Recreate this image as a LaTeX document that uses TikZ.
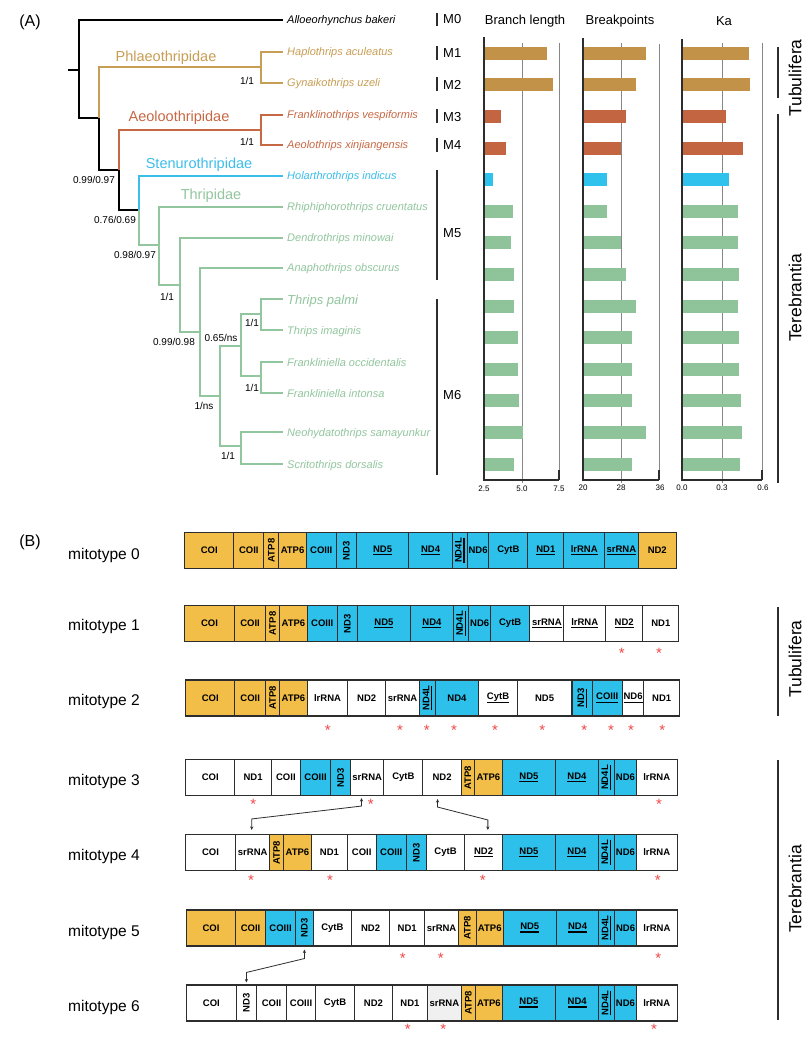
\documentclass[tikz,border=0pt]{standalone}
\usepackage{fontspec}
\setmainfont{Liberation Sans}
\usepackage{graphicx}
\usetikzlibrary{arrows.meta,calc}
\definecolor{tgold}{RGB}{200,158,84}
\definecolor{tred}{RGB}{199,104,68}
\definecolor{tblue}{RGB}{60,190,235}
\definecolor{tgreen}{RGB}{146,198,158}
\definecolor{bgold}{RGB}{193,146,72}
\definecolor{bred}{RGB}{196,101,66}
\definecolor{bblue}{RGB}{46,194,236}
\definecolor{bgreen}{RGB}{143,196,154}
\definecolor{ggold}{RGB}{243,190,72}
\definecolor{gblue}{RGB}{45,192,234}
\definecolor{gpale}{RGB}{240,240,240}
\definecolor{starred}{RGB}{240,70,70}
\definecolor{axisc}{RGB}{45,45,45}
\definecolor{gridc}{RGB}{135,135,135}
\newcommand\fs[1]{\fontsize{#1}{#1}\selectfont}
\newsavebox\gbx
\newcommand\gund[1]{\sbox\gbx{#1}\rlap{\rule[-3pt]{\wd\gbx}{1.3pt}}\usebox\gbx}
\newcommand\grot[1]{\rotatebox{90}{#1}}
\newcommand\gene[5]{\node[gbox,fill=#4,minimum width={#3pt-#2pt}] (#1) at (#2,\ry) {#5};}
\begin{document}
\begin{tikzpicture}[x=1pt,y=-1pt,
  leaf/.style={font=\fs{11}\itshape, anchor=base west, inner sep=0pt},
  fam/.style={font=\fs{14.5}, inner sep=0pt},
  sup/.style={font=\fs{10}, inner sep=0pt},
  mlab/.style={font=\fs{13}, anchor=west, inner sep=0pt},
  mbar/.style={axisc, line width=1.7pt},
  head/.style={font=\fs{13}, inner sep=0pt},
  tick/.style={font=\fs{8}, inner sep=0pt},
  clade/.style={font=\fs{17.5}, rotate=90, inner sep=0pt},
  gbox/.style={draw=axisc, line width=1.1pt, minimum height=36pt, inner sep=0pt, font=\bfseries\fs{9.5}, anchor=west},
  star/.style={text=starred, font=\fs{15}, inner sep=0pt},
  mito/.style={font=\fs{15.5}, anchor=base west, inner sep=0pt},
  dbl/.style={{Stealth[length=3.5pt,width=3.2pt]}-{Stealth[length=3.5pt,width=3.2pt]}, line width=0.8pt, draw=axisc},
  panel/.style={font=\fs{16}, inner sep=0pt}]
\useasboundingbox (0,0) rectangle (809,1040);
\fill[white] (0,0) rectangle (809,1040);

% ---------------- Panel A: tree ----------------
\node[panel] (pA) at (30,22) {(A)};
\begin{scope}[line width=2.3pt]
\draw[black] (68,70) -- (79,70);
\draw[black] (283,20) -- (79,20) -- (79,118) -- (99,118);
\draw[black] (99,118) -- (99,170) -- (119,170);
\draw[black] (119,170) -- (119,210) -- (139,210);
\draw[tgold] (99,118) -- (99,67) -- (261,67);
\draw[tgold] (283,52) -- (261,52) -- (261,83) -- (283,83);
\draw[tred] (119,170) -- (119,130) -- (261,130);
\draw[tred] (283,115) -- (261,115) -- (261,145) -- (283,145);
\draw[tblue] (139,210) -- (139,176) -- (283,176);
\draw[tgreen] (139,210) -- (139,245) -- (159,245);
\draw[tgreen] (283,207) -- (159,207) -- (159,285) -- (180,285);
\draw[tgreen] (283,238) -- (180,238) -- (180,332) -- (200,332);
\draw[tgreen] (283,268) -- (200,268) -- (200,396) -- (220,396);
\draw[tgreen] (241,346) -- (220,346) -- (220,446) -- (241,446);
\draw[tgreen] (261,314) -- (241,314) -- (241,376) -- (261,376);
\draw[tgreen] (283,299) -- (261,299) -- (261,330) -- (283,330);
\draw[tgreen] (283,362) -- (261,362) -- (261,393) -- (283,393);
\draw[tgreen] (283,432) -- (241,432) -- (241,464) -- (283,464);
\end{scope}

\node[leaf] (l0) at (287,24) {Alloeorhynchus bakeri};
\node[leaf,text=tgold] (l1) at (287,56) {Haplothrips aculeatus};
\node[leaf,text=tgold] (l2) at (287,87) {Gynaikothrips uzeli};
\node[leaf,text=tred] (l3) at (287,119) {Franklinothrips vespiformis};
\node[leaf,text=tred] (l4) at (287,149) {Aeolothrips xinjiangensis};
\node[leaf,text=tblue] (l5) at (287,180) {Holarthrothrips indicus};
\node[leaf,text=tgreen] (l6) at (287,211) {Rhiphiphorothrips cruentatus};
\node[leaf,text=tgreen] (l7) at (287,242) {Dendrothrips minowai};
\node[leaf,text=tgreen] (l8) at (287,272) {Anaphothrips obscurus};
\node[leaf,text=tgreen,font=\fs{13}\itshape] (l9) at (287,304) {Thrips palmi};
\node[leaf,text=tgreen] (l10) at (287,334) {Thrips imaginis};
\node[leaf,text=tgreen] (l11) at (287,366) {Frankliniella occidentalis};
\node[leaf,text=tgreen] (l12) at (287,397) {Frankliniella intonsa};
\node[leaf,text=tgreen] (l13) at (287,436) {Neohydatothrips samayunkur};
\node[leaf,text=tgreen] (l14) at (287,468) {Scritothrips dorsalis};

\node[fam,text=tgold] (fPh) at (166,58) {Phlaeothripidae};
\node[fam,text=tred] (fAe) at (179,118) {Aeoloothripidae};
\node[fam,text=tblue] (fSt) at (199,165) {Stenurothripidae};
\node[fam,text=tgreen] (fTh) at (211,196) {Thripidae};

\node[sup] (s1) at (247,81) {1/1};
\node[sup] (s2) at (247,142) {1/1};
\node[sup] (s3) at (94,180) {0.99/0.97};
\node[sup] (s4) at (115,220) {0.76/0.69};
\node[sup] (s5) at (135,255) {0.98/0.97};
\node[sup] (s6) at (167,297) {1/1};
\node[sup] (s7) at (174,342) {0.99/0.98};
\node[sup] (s8) at (221,338) {0.65/ns};
\node[sup] (s9) at (252,323) {1/1};
\node[sup] (s10) at (252,388) {1/1};
\node[sup] (s11) at (204,406) {1/ns};
\node[sup] (s12) at (228,456) {1/1};

% mitotype brackets
\draw[mbar] (436.7,13) -- (436.7,26);
\draw[mbar] (436.7,46) -- (436.7,60);
\draw[mbar] (436.7,77) -- (436.7,91);
\draw[mbar] (436.7,109) -- (436.7,123);
\draw[mbar] (436.7,138) -- (436.7,152);
\draw[mbar] (436.7,170) -- (436.7,280);
\draw[mbar] (436.7,299) -- (436.7,475);
\node[mlab] (M0) at (443,19) {M0};
\node[mlab] (M1) at (443,53) {M1};
\node[mlab] (M2) at (443,85) {M2};
\node[mlab] (M3) at (443,117) {M3};
\node[mlab] (M4) at (443,145) {M4};
\node[mlab] (M5) at (443,233) {M5};
\node[mlab] (M6) at (443,395) {M6};

% ---------------- bar charts ----------------
\node[head] (hBL) at (525,21) {Branch length};
\node[head] (hBP) at (620,21) {Breakpoints};
\node[head] (hKa) at (724,21) {Ka};

\draw[gridc, line width=0.9pt] (522,43) -- (522,483) (559,43) -- (559,480);
\draw[gridc, line width=0.9pt] (621,43) -- (621,483) (659,44) -- (659,480);
\draw[gridc, line width=0.9pt] (722,43) -- (722,483) (762,43) -- (762,480);

\foreach \i/\b/\p/\k/\c in {1/547/646/749/bgold,2/553/636/750/bgold,3/501/626/726/bred,4/506/621/743/bred,5/493/607/729/bblue,6/513/607/738/bgreen,7/511/621/738/bgreen,8/514/626/739/bgreen,9/514/636/738/bgreen,10/518/632/739/bgreen,11/518/632/739/bgreen,12/519/632/741/bgreen,13/523/646/742/bgreen,14/514/632/740/bgreen}{
  \pgfmathsetmacro\yy{53.3+31.6*(\i-1)}
  \fill[\c] (484,\yy-6.5) rectangle (\b,\yy+6.5);
  \fill[\c] (583,\yy-6.5) rectangle (\p,\yy+6.5);
  \fill[\c] (682,\yy-6.5) rectangle (\k,\yy+6.5);
}

\draw[axisc, line width=1.4pt] (484,37) -- (484,480) -- (559,480);
\draw[axisc, line width=1.4pt] (583,38) -- (583,480) -- (659,480);
\draw[axisc, line width=1.4pt] (682,39) -- (682,480) -- (762,480);
\draw[axisc, line width=1.2pt] (559,470) -- (559,480) (659,470) -- (659,480) (762,470) -- (762,480);

\node[tick] (t1) at (484,489) {2.5};
\node[tick] (t2) at (522,489) {5.0};
\node[tick] (t3) at (559,489) {7.5};
\node[tick] (t4) at (583,488) {20};
\node[tick] (t5) at (621,488) {28};
\node[tick] (t6) at (660,488) {36};
\node[tick] (t7) at (682,488) {0.0};
\node[tick] (t8) at (722,488) {0.3};
\node[tick] (t9) at (763,488) {0.6};

% clade brackets A
\draw[mbar] (778,47) -- (778,98);
\draw[mbar] (778,114) -- (778,483);
\node[clade] (cTuA) at (795,78) {Tubulifera};
\node[clade] (cTeA) at (795,298) {Terebrantia};

% ---------------- Panel B ----------------
\node[panel] (pB) at (30,542) {(B)};
\node[mito] (m0) at (68,559) {mitotype 0};
\node[mito] (m1) at (68,630) {mitotype 1};
\node[mito] (m2) at (68,705) {mitotype 2};
\node[mito] (m3) at (68,785) {mitotype 3};
\node[mito] (m4) at (68,860) {mitotype 4};
\node[mito] (m5) at (68,936) {mitotype 5};
\node[mito] (m6) at (68,1011) {mitotype 6};

% row 0
\def\ry{550.5}
\gene{r0g1}{184}{233.3}{ggold}{COI}
\gene{r0g2}{233.3}{263.3}{ggold}{COII}
\gene{r0g3}{263.3}{278.3}{ggold}{\grot{ATP8}}
\gene{r0g4}{278.3}{305.7}{ggold}{ATP6}
\gene{r0g5}{305.7}{335.7}{gblue}{COIII}
\gene{r0g6}{335.7}{355.7}{gblue}{\grot{ND3}}
\gene{r0g7}{355.7}{408.3}{gblue}{\gund{ND5}}
\gene{r0g8}{408.3}{451.7}{gblue}{\gund{ND4}}
\gene{r0g9}{451.7}{466.7}{gblue}{\grot{\gund{ND4L}}}
\gene{r0g10}{466.7}{488.3}{gblue}{ND6}
\gene{r0g11}{488.3}{527.3}{gblue}{CytB}
\gene{r0g12}{527.3}{563.3}{gblue}{\gund{ND1}}
\gene{r0g13}{563.3}{604}{gblue}{\gund{lrRNA}}
\gene{r0g14}{604}{637.7}{gblue}{\gund{srRNA}}
\gene{r0g15}{637.7}{675.7}{ggold}{ND2}

% row 1
\def\ry{623.5}
\gene{r1g1}{184}{234}{ggold}{COI}
\gene{r1g2}{234}{265}{ggold}{COII}
\gene{r1g3}{265}{279}{ggold}{\grot{ATP8}}
\gene{r1g4}{279}{306.7}{ggold}{ATP6}
\gene{r1g5}{306.7}{336.7}{gblue}{COIII}
\gene{r1g6}{336.7}{356.7}{gblue}{\grot{ND3}}
\gene{r1g7}{356.7}{410}{gblue}{\gund{ND5}}
\gene{r1g8}{410}{452.7}{gblue}{\gund{ND4}}
\gene{r1g9}{452.7}{468.3}{gblue}{\grot{\gund{ND4L}}}
\gene{r1g10}{468.3}{490}{gblue}{ND6}
\gene{r1g11}{490}{529.3}{gblue}{CytB}
\gene{r1g12}{529.3}{563.3}{white}{\gund{srRNA}}
\gene{r1g13}{563.3}{605}{white}{\gund{lrRNA}}
\gene{r1g14}{605}{642.3}{white}{\gund{ND2}}
\gene{r1g15}{642.3}{678.3}{white}{ND1}
\node[star] (st1a) at (621.7,653) {*};
\node[star] (st1b) at (659,653) {*};

% row 2
\def\ry{698}
\gene{r2g1}{185}{234.3}{ggold}{COI}
\gene{r2g2}{234.3}{265}{ggold}{COII}
\gene{r2g3}{265}{279}{ggold}{\grot{ATP8}}
\gene{r2g4}{279}{306.7}{ggold}{ATP6}
\gene{r2g5}{306.7}{347.3}{white}{lrRNA}
\gene{r2g6}{347.3}{385}{white}{ND2}
\gene{r2g7}{385}{419}{white}{srRNA}
\gene{r2g8}{419}{435}{gblue}{\grot{\gund{ND4L}}}
\gene{r2g9}{435}{477.7}{gblue}{ND4}
\gene{r2g10}{477.7}{517.3}{white}{\gund{CytB}}
\gene{r2g11}{517.3}{570.7}{white}{ND5}
\gene{r2g12}{571.7}{591.7}{gblue}{\grot{\gund{ND3}}}
\gene{r2g13}{591.7}{621.7}{gblue}{\gund{COIII}}
\gene{r2g14}{621.7}{643.3}{white}{\gund{ND6}}
\gene{r2g15}{643.3}{679}{white}{ND1}
\foreach \sx [count=\j] in {327.7,400,426.7,454,495,542.3,584.3,611,631,662.3}
  \node[star] (st2-\j) at (\sx,730.5) {*};

% row 3
\def\ry{777.5}
\gene{r3g1}{185}{234.3}{white}{COI}
\gene{r3g2}{234.3}{270.7}{white}{ND1}
\gene{r3g3}{270.7}{300}{white}{COII}
\gene{r3g4}{300}{330}{gblue}{COIII}
\gene{r3g5}{330}{350}{gblue}{\grot{ND3}}
\gene{r3g6}{350}{383.3}{white}{srRNA}
\gene{r3g7}{383.3}{422.3}{white}{CytB}
\gene{r3g8}{422.3}{460.7}{white}{ND2}
\gene{r3g9}{460.7}{474}{ggold}{\grot{ATP8}}
\gene{r3g10}{474}{501.7}{ggold}{ATP6}
\gene{r3g11}{501.7}{555}{gblue}{\gund{ND5}}
\gene{r3g12}{555}{597.7}{gblue}{\gund{ND4}}
\gene{r3g13}{597.7}{614}{gblue}{\grot{\gund{ND4L}}}
\gene{r3g14}{614}{635.7}{gblue}{ND6}
\gene{r3g15}{635.7}{676.7}{white}{lrRNA}
\foreach \sx [count=\j] in {253.3,370.7,659}
  \node[star] (st3-\j) at (\sx,804.5) {*};

% row 4
\def\ry{852.5}
\gene{r4g1}{185}{235}{white}{COI}
\gene{r4g2}{235}{269.3}{white}{srRNA}
\gene{r4g3}{269.3}{282.7}{ggold}{\grot{ATP8}}
\gene{r4g4}{282.7}{311}{ggold}{ATP6}
\gene{r4g5}{311}{346.7}{white}{ND1}
\gene{r4g6}{346.7}{375.7}{white}{COII}
\gene{r4g7}{375.7}{405.7}{gblue}{COIII}
\gene{r4g8}{405.7}{425.7}{gblue}{\grot{ND3}}
\gene{r4g9}{425.7}{464.3}{white}{CytB}
\gene{r4g10}{464.3}{501.7}{white}{\gund{ND2}}
\gene{r4g11}{501.7}{555}{gblue}{\gund{ND5}}
\gene{r4g12}{555}{597.7}{gblue}{\gund{ND4}}
\gene{r4g13}{597.7}{614}{gblue}{\grot{\gund{ND4L}}}
\gene{r4g14}{614}{635.7}{gblue}{ND6}
\gene{r4g15}{635.7}{676.7}{white}{lrRNA}
\foreach \sx [count=\j] in {251,330,482.7,657.7}
  \node[star] (st4-\j) at (\sx,880) {*};

% row 5
\def\ry{928}
\gene{r5g1}{186}{235}{ggold}{COI}
\gene{r5g2}{235}{265}{ggold}{COII}
\gene{r5g3}{265}{295}{gblue}{COIII}
\gene{r5g4}{295}{312.7}{gblue}{\grot{ND3}}
\gene{r5g5}{312.7}{351}{white}{CytB}
\gene{r5g6}{351}{389}{white}{ND2}
\gene{r5g7}{389}{424.3}{white}{ND1}
\gene{r5g8}{424.3}{457.7}{white}{srRNA}
\gene{r5g9}{457.7}{475.7}{ggold}{\grot{ATP8}}
\gene{r5g10}{475.7}{502.7}{ggold}{ATP6}
\gene{r5g11}{502.7}{555.7}{gblue}{\gund{ND5}}
\gene{r5g12}{555.7}{598.3}{gblue}{\gund{ND4}}
\gene{r5g13}{598.3}{614}{gblue}{\grot{\gund{ND4L}}}
\gene{r5g14}{614}{636}{gblue}{ND6}
\gene{r5g15}{636}{676.7}{white}{lrRNA}
\foreach \sx [count=\j] in {402.7,440.7,658.3}
  \node[star] (st5-\j) at (\sx,958) {*};

% row 6
\def\ry{1003}
\gene{r6g1}{186}{235.7}{white}{COI}
\gene{r6g2}{235.7}{256}{white}{\grot{ND3}}
\gene{r6g3}{256}{286}{white}{COII}
\gene{r6g4}{286}{315}{white}{COIII}
\gene{r6g5}{315}{354}{white}{CytB}
\gene{r6g6}{354}{391.7}{white}{ND2}
\gene{r6g7}{391.7}{427}{white}{ND1}
\gene{r6g8}{427}{460.7}{gpale}{srRNA}
\gene{r6g9}{460.7}{475}{ggold}{\grot{ATP8}}
\gene{r6g10}{475}{501.7}{ggold}{ATP6}
\gene{r6g11}{501.7}{555}{gblue}{\gund{ND5}}
\gene{r6g12}{555}{598.3}{gblue}{\gund{ND4}}
\gene{r6g13}{598.3}{614}{gblue}{\grot{\gund{ND4L}}}
\gene{r6g14}{614}{635.7}{gblue}{ND6}
\gene{r6g15}{635.7}{676.7}{white}{lrRNA}
\foreach \sx [count=\j] in {407.7,443.3,654}
  \node[star] (st6-\j) at (\sx,1029.5) {*};

% translocation arrows
\draw[dbl, shorten <=2pt, shorten >=4pt] ([xshift=-5.7pt]r3g6.south) -- ++(0,10) -- ($([xshift=-1pt]r4g2.north)+(0,-15)$) -- ([xshift=-1pt]r4g2.north);
\draw[dbl, shorten <=3pt, shorten >=4pt] ([xshift=-4.5pt]r3g8.south) -- ++(0,11) -- ($([xshift=4.3pt]r4g10.north)+(0,-14)$) -- ([xshift=4.3pt]r4g10.north);
\draw[dbl, shorten <=3pt, shorten >=2pt] (r5g4.south) -- ++(0,12) -- ($(r6g2.north)+(0,-12)$) -- (r6g2.north);

% clade brackets B
\draw[mbar] (778,607) -- (778,716);
\draw[mbar] (778,760) -- (778,1020);
\node[clade] (cTuB) at (795,659) {Tubulifera};
\node[clade] (cTeB) at (795,889) {Terebrantia};
\end{tikzpicture}
\end{document}
